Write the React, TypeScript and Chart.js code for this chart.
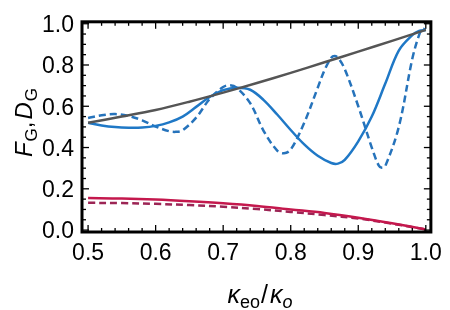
import React, { useEffect, useRef } from "react";
import { Chart, registerables } from "chart.js";

Chart.register(...registerables);

const xTicks = [0.5, 0.6, 0.7, 0.8, 0.9, 1.0];
const yTicks = [0.0, 0.2, 0.4, 0.6, 0.8, 1.0];

const grayX = [0.5, 0.55, 0.6, 0.65, 0.7, 0.75, 0.8, 0.85, 0.9, 0.95, 1.0];
const grayY = [0.52, 0.55, 0.582, 0.622, 0.666, 0.713, 0.762, 0.813, 0.865, 0.917, 0.97];

const blueSolidX = [0.5, 0.52, 0.54, 0.56, 0.58, 0.6, 0.62, 0.64, 0.66, 0.68, 0.7, 0.72, 0.74, 0.76, 0.78, 0.8, 0.82, 0.84, 0.86, 0.87, 0.88, 0.9, 0.92, 0.94, 0.96, 0.98, 0.99, 1.0];
const blueSolidY = [0.52, 0.507, 0.499, 0.496, 0.497, 0.505, 0.522, 0.55, 0.597, 0.645, 0.678, 0.69, 0.68, 0.63, 0.56, 0.485, 0.415, 0.36, 0.325, 0.322, 0.34, 0.43, 0.55, 0.71, 0.87, 0.945, 0.965, 0.97];

const blueDashX = [0.5, 0.52, 0.54, 0.56, 0.58, 0.6, 0.62, 0.63, 0.64, 0.66, 0.68, 0.7, 0.71, 0.72, 0.74, 0.76, 0.78, 0.79, 0.8, 0.82, 0.84, 0.85, 0.86, 0.865, 0.87, 0.88, 0.9, 0.92, 0.93, 0.935, 0.94, 0.96, 0.98, 0.99, 0.995, 1.0];
const blueDashY = [0.543, 0.556, 0.562, 0.553, 0.532, 0.502, 0.479, 0.476, 0.484, 0.545, 0.635, 0.693, 0.702, 0.69, 0.615, 0.48, 0.385, 0.372, 0.39, 0.52, 0.69, 0.775, 0.835, 0.843, 0.835, 0.78, 0.6, 0.4, 0.315, 0.302, 0.31, 0.5, 0.83, 0.945, 0.975, 0.97];

const redSolidX = [0.5, 0.55, 0.6, 0.65, 0.7, 0.75, 0.8, 0.85, 0.9, 0.95, 1.0];
const redSolidY = [0.155, 0.153, 0.148, 0.14, 0.13, 0.117, 0.1, 0.083, 0.06, 0.033, 0.003];

const redDashX = [0.5, 0.55, 0.6, 0.65, 0.7, 0.75, 0.8, 0.85, 0.9, 0.95, 1.0];
const redDashY = [0.132, 0.131, 0.127, 0.121, 0.113, 0.102, 0.088, 0.073, 0.056, 0.031, 0.003];

const FONT = '"Liberation Sans", Arial, sans-serif';

const pts = (xs: number[], ys: number[]) => xs.map((x, i) => ({ x, y: ys[i] }));

type Seg = { t: string; size: number; italic?: boolean; dy?: number; gap?: number };

function drawRich(ctx: CanvasRenderingContext2D, segs: Seg[], cx: number, baseY: number) {
  let total = 0;
  const widths: number[] = [];
  for (const s of segs) {
    ctx.font = `${s.italic ? "italic " : ""}${s.size}px ${FONT}`;
    const w = ctx.measureText(s.t).width + (s.gap || 0);
    widths.push(w);
    total += w;
  }
  let x = cx - total / 2;
  ctx.textAlign = "left";
  ctx.textBaseline = "alphabetic";
  segs.forEach((s, i) => {
    ctx.font = `${s.italic ? "italic " : ""}${s.size}px ${FONT}`;
    ctx.fillText(s.t, x, baseY + (s.dy || 0));
    x += widths[i];
  });
}

const framePlugin = {
  id: "frame",
  afterDatasetsDraw(chart: any) {
    const { ctx, chartArea: a, scales } = chart;
    const xs = scales.x;
    const ys = scales.y;
    ctx.save();
    ctx.strokeStyle = "#000";
    ctx.lineWidth = 1.3;
    const line = (x1: number, y1: number, x2: number, y2: number) => {
      ctx.beginPath();
      ctx.moveTo(x1, y1);
      ctx.lineTo(x2, y2);
      ctx.stroke();
    };
    for (let i = 0; i <= 25; i++) {
      const v = 0.5 + i * 0.02;
      const px = xs.getPixelForValue(v);
      const len = i % 5 === 0 ? 7 : 4;
      line(px, a.bottom, px, a.bottom - len);
      line(px, a.top, px, a.top + len);
    }
    for (let i = 0; i <= 20; i++) {
      const v = i * 0.05;
      const py = ys.getPixelForValue(v);
      const len = i % 4 === 0 ? 7 : 4;
      line(a.left, py, a.left + len, py);
      line(a.right, py, a.right - len, py);
    }
    ctx.lineWidth = 3;
    ctx.strokeRect(a.left, a.top, a.right - a.left, a.bottom - a.top);
    ctx.restore();
  },
  afterDraw(chart: any) {
    const { ctx } = chart;
    ctx.save();
    ctx.fillStyle = "#000";
    drawRich(
      ctx,
      [
        { t: "κ", size: 25, italic: true },
        { t: "eo", size: 18, dy: 5, gap: 1 },
        { t: "/", size: 25, gap: 2 },
        { t: "κ", size: 25, italic: true },
        { t: "o", size: 18, italic: true, dy: 5 },
      ],
      260,
      303
    );
    ctx.translate(32, 122.5);
    ctx.rotate(-Math.PI / 2);
    drawRich(
      ctx,
      [
        { t: "F", size: 24, italic: true, gap: 1 },
        { t: "G", size: 17, dy: 5 },
        { t: ",", size: 24, gap: 2 },
        { t: "D", size: 24, italic: true, gap: 1 },
        { t: "G", size: 17, dy: 5 },
      ],
      0,
      0
    );
    ctx.restore();
  },
};

export default function App() {
  const ref = useRef<HTMLCanvasElement>(null);
  useEffect(() => {
    if (!ref.current) return;
    const common = { pointRadius: 0, borderWidth: 2.5, fill: false, tension: 0.35 };
    const chart = new Chart(ref.current, {
      type: "line",
      data: {
        datasets: [
          { ...common, data: pts(grayX, grayY), borderColor: "#555555", order: 0 },
          { ...common, data: pts(blueSolidX, blueSolidY), borderColor: "#1f78c6", order: 1 },
          { ...common, data: pts(blueDashX, blueDashY), borderColor: "#2673bb", borderDash: [7, 4], order: 2 },
          { ...common, data: pts(redSolidX, redSolidY), borderColor: "#c4184d", order: 3 },
          { ...common, data: pts(redDashX, redDashY), borderColor: "#9c2555", borderDash: [7, 4], order: 4 },
        ],
      },
      options: {
        animation: false,
        responsive: false,
        events: [],
        layout: { padding: { left: 0, top: 13, right: 14, bottom: 0 } },
        plugins: { legend: { display: false }, tooltip: { enabled: false } },
        scales: {
          x: {
            type: "linear",
            min: 0.491,
            max: 1.0075,
            afterBuildTicks: (s: any) => {
              s.ticks = xTicks.map((v) => ({ value: v }));
            },
            afterFit: (s: any) => {
              s.height = 78;
            },
            ticks: {
              font: { family: FONT, size: 23 },
              color: "#000",
              padding: 8,
              maxRotation: 0,
              autoSkip: false,
              callback: (v: any) => Number(v).toFixed(1),
            },
            grid: { display: false, drawTicks: false },
            border: { display: false },
          },
          y: {
            type: "linear",
            min: -0.0093,
            max: 1.0093,
            afterBuildTicks: (s: any) => {
              s.ticks = yTicks.map((v) => ({ value: v }));
            },
            afterFit: (s: any) => {
              s.width = 82;
            },
            ticks: {
              font: { family: FONT, size: 23 },
              color: "#000",
              padding: 8,
              labelOffset: 2,
              autoSkip: false,
              callback: (v: any) => Number(v).toFixed(1),
            },
            grid: { display: false, drawTicks: false },
            border: { display: false },
          },
        },
      },
      plugins: [framePlugin],
    });
    return () => chart.destroy();
  }, []);
  return (
    <div style={{ position: "absolute", left: 0, top: 0, width: 450, height: 310, background: "#fff" }}>
      <canvas ref={ref} width={450} height={310} style={{ display: "block" }} />
    </div>
  );
}
